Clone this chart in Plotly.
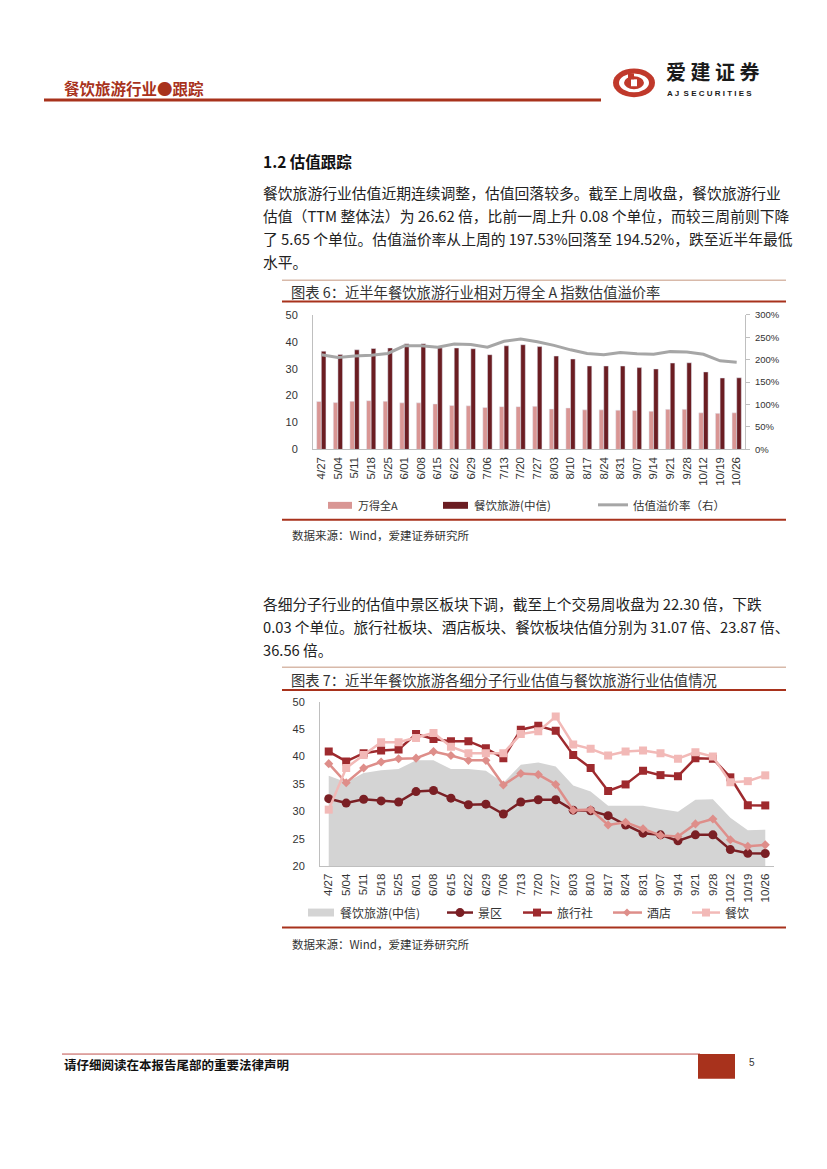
import plotly.graph_objects as go

# ---------------- data ----------------
dates = ["4/27", "5/04", "5/11", "5/18", "5/25", "6/01", "6/08", "6/15", "6/22", "6/29",
         "7/06", "7/13", "7/20", "7/27", "8/03", "8/10", "8/17", "8/24", "8/31", "9/07",
         "9/14", "9/21", "9/28", "10/12", "10/19", "10/26"]

wind_all_a = [17.8, 17.4, 17.9, 18.1, 17.9, 17.3, 17.3, 16.9, 16.3, 16.2,
              15.6, 15.9, 15.9, 16.0, 15.0, 15.4, 14.7, 14.7, 14.6, 14.5,
              14.2, 14.9, 14.9, 13.6, 13.4, 13.6]
catering_tourism = [36.5, 35.3, 37.0, 37.5, 37.7, 39.3, 39.3, 37.7, 37.7, 37.4,
                    35.2, 38.5, 38.9, 38.2, 34.7, 33.6, 31.0, 31.0, 31.0, 30.4,
                    29.9, 32.1, 32.2, 28.8, 26.54, 26.62]
premium_pct = [211, 205, 208, 210, 214, 231, 231, 228, 235, 234,
               228, 241, 246, 240, 232, 222, 214, 211, 216, 213,
               212, 218, 217, 212, 197.53, 194.52]

scenic = [32.3, 31.5, 32.2, 31.9, 31.7, 33.6, 33.8, 32.4, 31.2, 31.3,
          29.5, 31.7, 32.1, 32.1, 30.2, 30.1, 29.2, 27.5, 26.0, 25.7,
          24.6, 25.7, 25.7, 23.0, 22.33, 22.30]
travel_agency = [40.9, 39.1, 40.6, 41.1, 41.3, 44.1, 43.2, 42.8, 42.8, 41.5,
                 39.7, 44.9, 45.6, 44.7, 40.3, 37.9, 33.7, 34.9, 37.4, 36.6,
                 36.4, 39.7, 39.6, 36.2, 31.1, 31.07]
hotel = [38.7, 35.2, 37.9, 39.0, 39.6, 39.7, 40.9, 40.2, 39.3, 39.3,
         34.8, 36.9, 36.7, 34.9, 30.2, 30.3, 27.5, 28.0, 26.8, 25.6,
         25.4, 27.7, 28.6, 24.8, 23.6, 23.87]
catering = [30.3, 37.9, 40.3, 42.6, 42.6, 43.4, 44.3, 41.8, 40.6, 40.6,
            40.6, 44.1, 44.6, 47.3, 42.2, 41.4, 40.2, 40.9, 41.1, 40.6,
            39.6, 40.8, 40.0, 35.3, 35.5, 36.56]

# ---------------- page geometry ----------------
W, H = 827, 1169
OX, OY = 8, 8          # default body margin of the html page
FW, FH = W - 2 * OX, H - 2 * OY


def X(px):
    return (px - OX) / FW


def Y(py):
    return 1 - (py - OY) / FH


CJK = "Noto Sans CJK SC"
LAT = "Liberation Sans, Arial"
RED = "#A8321C"
DARK = "#222222"

C_LIGHT_BAR = "#D99694"
C_DARK_BAR = "#6B1D22"
C_GRAY_LINE = "#A6A6A6"
C_AREA = "#D4D4D4"
C_SCENIC = "#7A1F24"
C_TRAVEL = "#9E2A2E"
C_HOTEL = "#DE8E8A"
C_CATER = "#F2B9B7"

fig = go.Figure()

# ---------- chart 6 ----------
fig.add_trace(go.Bar(x=dates, y=wind_all_a, name="万得全A", marker_color=C_LIGHT_BAR,
                     xaxis="x", yaxis="y", showlegend=False))
fig.add_trace(go.Bar(x=dates, y=catering_tourism, name="餐饮旅游(中信)", marker_color=C_DARK_BAR,
                     xaxis="x", yaxis="y", showlegend=False))
fig.add_trace(go.Scatter(x=dates, y=premium_pct, name="估值溢价率（右）", mode="lines",
                         line=dict(color=C_GRAY_LINE, width=3), xaxis="x", yaxis="y2",
                         showlegend=False))

# ---------- chart 7 ----------
fig.add_trace(go.Scatter(x=dates, y=catering_tourism, name="餐饮旅游(中信)", mode="lines",
                         fill="tozeroy", fillcolor=C_AREA, line=dict(width=0, color=C_AREA),
                         xaxis="x2", yaxis="y3", showlegend=False))
fig.add_trace(go.Scatter(x=dates, y=scenic, name="景区", mode="lines+markers",
                         line=dict(color=C_SCENIC, width=2.5),
                         marker=dict(symbol="circle", size=9, color=C_SCENIC),
                         xaxis="x2", yaxis="y3", showlegend=False))
fig.add_trace(go.Scatter(x=dates, y=travel_agency, name="旅行社", mode="lines+markers",
                         line=dict(color=C_TRAVEL, width=2.5),
                         marker=dict(symbol="square", size=8, color=C_TRAVEL),
                         xaxis="x2", yaxis="y3", showlegend=False))
fig.add_trace(go.Scatter(x=dates, y=hotel, name="酒店", mode="lines+markers",
                         line=dict(color=C_HOTEL, width=2.5),
                         marker=dict(symbol="diamond", size=7, color=C_HOTEL),
                         xaxis="x2", yaxis="y3", showlegend=False))
fig.add_trace(go.Scatter(x=dates, y=catering, name="餐饮", mode="lines+markers",
                         line=dict(color=C_CATER, width=2.5),
                         marker=dict(symbol="square", size=8, color=C_CATER),
                         xaxis="x2", yaxis="y3", showlegend=False))

axis_line = "#BFBFBF"
tick_font = dict(family=LAT, size=11, color="#333333")
ncat = len(dates)

fig.update_layout(
    width=FW, height=FH, autosize=False,
    margin=dict(l=0, r=0, t=0, b=0, pad=0),
    paper_bgcolor="white", plot_bgcolor="rgba(0,0,0,0)",
    barmode="group", bargap=0.44, bargroupgap=0.0,
    showlegend=False,
    xaxis=dict(domain=[X(313), X(745)], anchor="y", type="category",
               range=[-0.5, ncat - 0.5],
               tickangle=-90, tickfont=dict(family=LAT, size=11.5, color="#333"),
               showline=True, linecolor=axis_line, linewidth=1, ticks="",
               showgrid=False, zeroline=False, ticklabelstandoff=2),
    yaxis=dict(domain=[Y(448), Y(312)], anchor="x", range=[0, 50], dtick=10,
               tickfont=tick_font, showline=True, linecolor=axis_line, linewidth=1,
               showgrid=False, zeroline=False, ticks="", ticklabelstandoff=12),
    yaxis2=dict(overlaying="y", side="right", anchor="x", range=[0, 300], dtick=50,
                ticksuffix="%", tickfont=dict(family=LAT, size=9.5, color="#333"),
                showline=True, linecolor=axis_line, linewidth=1, ticks="outside",
                ticklen=4, tickcolor=axis_line, showgrid=False, zeroline=False,
                ticklabelstandoff=3),
    xaxis2=dict(domain=[X(320), X(774)], anchor="y3", type="category",
                range=[-0.5, ncat - 0.5],
                tickangle=-90, tickfont=dict(family=LAT, size=11.5, color="#333"),
                showline=True, linecolor=axis_line, linewidth=1, ticks="",
                showgrid=False, zeroline=False, ticklabelstandoff=2),
    yaxis3=dict(domain=[Y(869), Y(703)], anchor="x2", range=[20, 50], dtick=5,
                tickfont=tick_font, showline=True, linecolor=axis_line, linewidth=1,
                showgrid=False, zeroline=False, ticks="", ticklabelstandoff=12),
)

shapes = []
ann = []


def hline(x0, x1, y, color, width):
    shapes.append(dict(type="line", xref="paper", yref="paper", x0=X(x0), x1=X(x1),
                       y0=Y(y), y1=Y(y), line=dict(color=color, width=width)))


def rect(x0, y0, x1, y1, color):
    shapes.append(dict(type="rect", xref="paper", yref="paper", x0=X(x0), x1=X(x1),
                       y0=Y(y1), y1=Y(y0), fillcolor=color, line=dict(width=0)))


def circle(cx, cy, r, color):
    shapes.append(dict(type="circle", xref="paper", yref="paper", x0=X(cx - r), x1=X(cx + r),
                       y0=Y(cy + r), y1=Y(cy - r), fillcolor=color, line=dict(width=0)))


def ellipse(x0, y0, x1, y1, color):
    shapes.append(dict(type="circle", xref="paper", yref="paper", x0=X(x0), x1=X(x1),
                       y0=Y(y1), y1=Y(y0), fillcolor=color, line=dict(width=0)))


def diamond(cx, cy, r, color):
    path = "M {} {} L {} {} L {} {} L {} {} Z".format(
        X(cx), Y(cy - r), X(cx + r), Y(cy), X(cx), Y(cy + r), X(cx - r), Y(cy))
    shapes.append(dict(type="path", xref="paper", yref="paper", path=path,
                       fillcolor=color, line=dict(width=0)))


def text(x, y, s, size, color=DARK, family=CJK, anchor="left", bold=False):
    ann.append(dict(xref="paper", yref="paper", x=X(x), y=Y(y), text=s, showarrow=False,
                    xanchor=anchor, yanchor="middle",
                    font=dict(family=family, size=size, color=color,
                              weight="bold" if bold else "normal")))


# ---------- header ----------
text(62, 83, "餐饮旅游行业●跟踪", 15.5, color=RED, bold=True)
hline(44, 601, 95, RED, 3)
# logo
ellipse(613, 63, 655, 92, "#C0392B")
ellipse(619, 68, 649, 87, "white")
ellipse(624, 71, 644, 84, "#C0392B")
rect(631, 74, 637, 81, "white")
rect(628, 68, 634, 74, "#C0392B")
text(664, 66, "爱 建 证 券", 20, color="#1a1a1a", bold=True)
text(665, 88, "A J  S E C U R I T I E S", 8, color="#1a1a1a", family=LAT, bold=True)

# ---------- section 1.2 ----------
text(261, 157, "1.2 估值跟踪", 15.5, color="#111", bold=True)
para1 = [
    "餐饮旅游行业估值近期连续调整，估值回落较多。截至上周收盘，餐饮旅游行业",
    "估值（TTM 整体法）为 26.62 倍，比前一周上升 0.08 个单位，而较三周前则下降",
    "了 5.65 个单位。估值溢价率从上周的 197.53%回落至 194.52%，跌至近半年最低",
    "水平。",
]
for i, s in enumerate(para1):
    text(261, 188 + i * 23.3, s, 14.8, color="#222")

# chart 6 frame
hline(282, 786, 277, "#D8B9A9", 1.5)
text(289, 288, "图表 6：近半年餐饮旅游行业相对万得全 A 指数估值溢价率", 14.3, color="#333")
hline(282, 786, 298.5, RED, 2)
hline(282, 786, 519, RED, 2)
text(290, 534, "数据来源：Wind，爱建证券研究所", 11.5, color="#333")

# chart 6 legend
rect(328, 501, 352, 508, C_LIGHT_BAR)
text(356, 504, "万得全A", 11, color="#333")
rect(443, 501, 468, 508, C_DARK_BAR)
text(472, 504, "餐饮旅游(中信)", 11.5, color="#333")
hline(598, 628, 504, C_GRAY_LINE, 3)
text(631, 504, "估值溢价率（右）", 11.5, color="#333")

# ---------- paragraph 2 ----------
para2 = [
    "各细分子行业的估值中景区板块下调，截至上个交易周收盘为 22.30 倍，下跌",
    "0.03 个单位。旅行社板块、酒店板块、餐饮板块估值分别为 31.07 倍、23.87 倍、",
    "36.56 倍。",
]
for i, s in enumerate(para2):
    text(261, 604 + i * 23.3, s, 14.7, color="#222")

# chart 7 frame
hline(282, 786, 668, "#D8B9A9", 1.5)
text(289, 680, "图表 7：近半年餐饮旅游各细分子行业估值与餐饮旅游行业估值情况", 14.3, color="#333")
hline(282, 786, 691, RED, 2)
hline(282, 786, 931, RED, 2)
text(290, 948, "数据来源：Wind，爱建证券研究所", 11.5, color="#333")

# chart 7 legend
ly = 916
rect(308, 912, 334, 920, C_AREA)
text(338, ly, "餐饮旅游(中信)", 12, color="#333")
hline(447, 473, ly, C_SCENIC, 2.5)
circle(460, ly, 4.5, C_SCENIC)
text(476, ly, "景区", 12, color="#333")
hline(523, 552, ly, C_TRAVEL, 2.5)
rect(533, ly - 4, 541, ly + 4, C_TRAVEL)
text(555, ly, "旅行社", 12, color="#333")
hline(613, 642, ly, C_HOTEL, 2.5)
diamond(627, ly, 4, C_HOTEL)
text(645, ly, "酒店", 12, color="#333")
hline(692, 720, ly, C_CATER, 2.5)
rect(702, ly - 4, 710, ly + 4, C_CATER)
text(723, ly, "餐饮", 12, color="#333")

# ---------- footer ----------
hline(62, 700, 1059, "#C0504D", 1)
text(62, 1070, "请仔细阅读在本报告尾部的重要法律声明", 12.5, color="#111", bold=True)
rect(698, 1059, 735, 1084, RED)
text(752, 1068, "5", 10, color="#333", family=LAT, anchor="center")

fig.update_layout(shapes=shapes, annotations=ann)

fig.write_html("out.html")
